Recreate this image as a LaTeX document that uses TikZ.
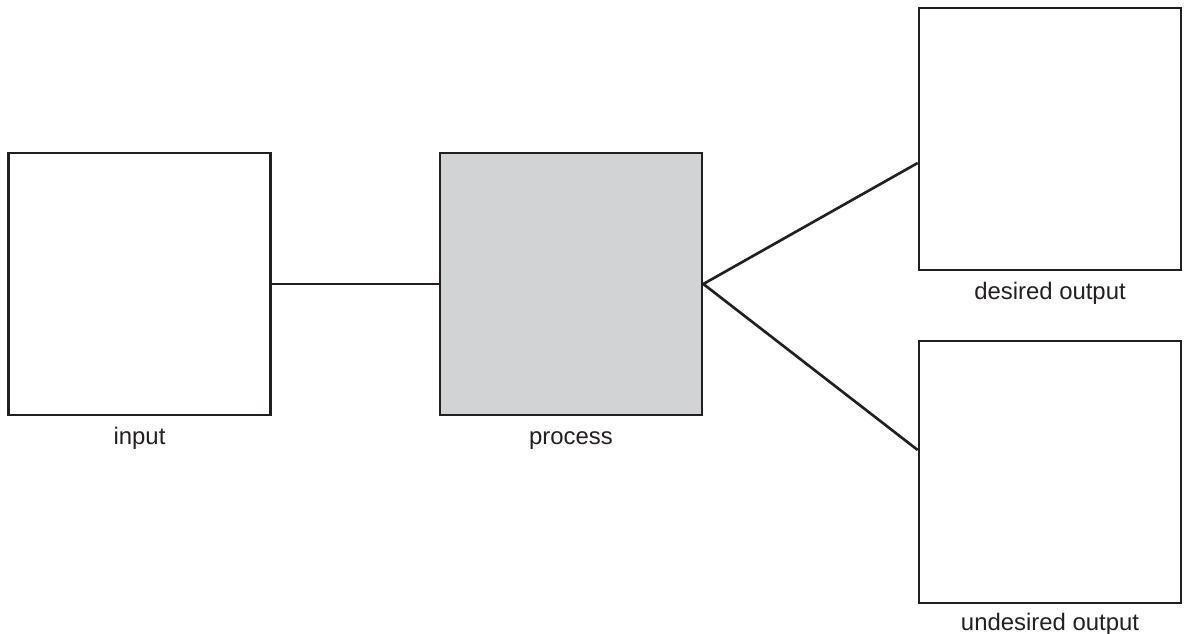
\documentclass[tikz,border=0pt]{standalone}
\usepackage{fontspec}
\setmainfont{Liberation Sans}
\usetikzlibrary{positioning}
\definecolor{ink}{HTML}{231F20}
\definecolor{procgray}{HTML}{D1D3D4}
\tikzset{
    box/.style={draw=ink,line width=1.5pt,minimum width=5.24cm,minimum height=5.24cm,inner sep=0pt},
    lbl/.style={text=ink,font=\fontsize{13.6}{16}\selectfont,inner sep=0pt},
    link/.style={draw=ink,line width=1.5pt},
}

\begin{document}
\begin{tikzpicture}
            \useasboundingbox (0,0) rectangle (23.68,-12.68);

            \node[box] (in) at (2.79,-5.68) {};
            \node[box,fill=procgray] (proc) at (11.42,-5.68) {};
            \node[box] (good) at (21.0,-2.78) {};
            \node[box] (bad) at (21.0,-9.44) {};

            \node[lbl,below=0.56cm of in.south,anchor=base] (inlbl) {input};
            \node[lbl,below=0.56cm of proc.south,anchor=base] (proclbl) {process};
            \node[lbl,below=0.56cm of good.south,anchor=base] (goodlbl) {desired output};
            \node[lbl,below=0.52cm of bad.south,anchor=base] (badlbl) {undesired output};

            \draw[link] (in.east) -- (proc.west);
            \draw[link] ([yshift=-0.48cm]good.west) -- (proc.east) -- ([yshift=0.44cm]bad.west);
        \end{tikzpicture}
\end{document}
